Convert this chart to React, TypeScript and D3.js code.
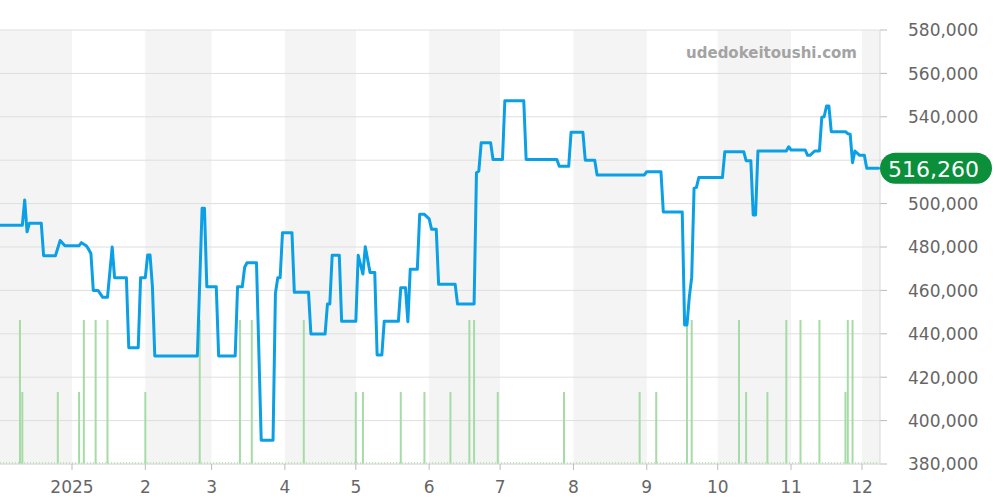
import React from "react";
import * as d3 from "d3";

const lineDates = [
  "2024-12-01","2024-12-11","2024-12-12","2024-12-13","2024-12-14","2024-12-19","2024-12-20","2024-12-25","2024-12-27","2024-12-29",
  "2025-01-04","2025-01-05","2025-01-07","2025-01-08","2025-01-09","2025-01-10","2025-01-12","2025-01-14","2025-01-16","2025-01-18",
  "2025-01-19","2025-01-24","2025-01-25","2025-01-29","2025-01-30","2025-02-01","2025-02-02","2025-02-03","2025-02-04","2025-02-05",
  "2025-02-23","2025-02-25","2025-02-26","2025-02-27","2025-03-03","2025-03-04","2025-03-11","2025-03-12","2025-03-14","2025-03-15",
  "2025-03-16","2025-03-20","2025-03-22","2025-03-27","2025-03-28","2025-03-29","2025-03-30","2025-03-31","2025-04-04","2025-04-05",
  "2025-04-11","2025-04-12","2025-04-18","2025-04-19","2025-04-20","2025-04-21","2025-04-24","2025-04-25","2025-05-01","2025-05-02",
  "2025-05-04","2025-05-05","2025-05-07","2025-05-09","2025-05-10","2025-05-12","2025-05-13","2025-05-19","2025-05-20","2025-05-22",
  "2025-05-23","2025-05-24","2025-05-27","2025-05-28","2025-05-30","2025-06-01","2025-06-02","2025-06-04","2025-06-05","2025-06-12",
  "2025-06-13","2025-06-20","2025-06-21","2025-06-22","2025-06-23","2025-06-27","2025-06-28","2025-07-02","2025-07-03","2025-07-11",
  "2025-07-12","2025-07-25","2025-07-26","2025-07-30","2025-07-31","2025-08-05","2025-08-06","2025-08-10","2025-08-11","2025-08-31",
  "2025-09-01","2025-09-07","2025-09-08","2025-09-16","2025-09-17","2025-09-18","2025-09-19","2025-09-20","2025-09-21","2025-09-22",
  "2025-09-23","2025-10-03","2025-10-04","2025-10-12","2025-10-13","2025-10-15","2025-10-16","2025-10-17","2025-10-18","2025-10-30",
  "2025-10-31","2025-11-01","2025-11-07","2025-11-08","2025-11-09","2025-11-11","2025-11-13","2025-11-14","2025-11-15","2025-11-16",
  "2025-11-17","2025-11-18","2025-11-24","2025-11-25","2025-11-26","2025-11-27","2025-11-28","2025-11-30","2025-12-02","2025-12-03",
  "2025-12-08",
];
const lineValues = [
  490000,490000,501700,487000,491000,491000,476000,476000,483000,480600,
  480600,482000,480600,479000,477000,460000,460000,456800,456800,480000,
  465850,465850,433600,433600,465850,465850,476300,476300,461700,429770,
  429770,497800,497800,461700,461700,429770,429770,461700,461700,470650,
  472750,472750,391000,391000,458600,465850,465850,486600,486600,459100,
  459100,439900,439900,453700,453700,476200,476200,445750,445750,476200,
  467550,480140,468300,468300,430230,430230,445750,445750,461250,461250,
  445600,469700,469700,495070,495070,493000,488200,488200,462800,462800,
  453700,453700,514200,515000,528000,528000,520300,520300,547400,547400,
  520300,520300,517200,517200,532850,532850,520000,520000,513180,513180,
  514700,514700,496130,496130,444060,444060,457000,466000,507050,507500,
  512000,512000,523900,523900,519800,519800,494750,494750,524240,524240,
  526200,524700,524700,522250,522250,524240,524240,539770,540000,545000,
  545000,533150,533150,532200,532000,518850,524240,522250,522250,516260,
  516260,
];

const volumeDates = [
  "2024-12-10","2024-12-11","2024-12-26","2025-01-04","2025-01-06","2025-01-11","2025-01-16","2025-02-01","2025-02-24","2025-03-13",
  "2025-03-18","2025-04-09","2025-05-01","2025-05-04","2025-05-20","2025-05-30","2025-06-10","2025-06-18","2025-06-20","2025-06-30",
  "2025-07-28","2025-08-29","2025-09-05","2025-09-18","2025-09-20","2025-10-10","2025-10-13","2025-10-22","2025-10-30","2025-11-05",
  "2025-11-13","2025-11-24","2025-11-25","2025-11-27",
];
const volumeValues = [
  2,1,1,1,2,2,2,1,2,2,
  2,2,1,1,1,1,1,2,2,1,
  1,1,1,2,2,2,1,1,2,2,
  2,1,2,2,
];

const yTicks = [380000, 400000, 420000, 440000, 460000, 480000, 500000, 520000, 540000, 560000, 580000];
const lastPrice = 516260;
const watermark = "udedokeitoushi.com";

export default function App() {
  const W = 1000, H = 500;
  const plotLeft = 0, plotRight = 880, plotTop = 30, plotBottom = 464;
  const parse = d3.timeParse("%Y-%m-%d");
  const x = d3.scaleTime()
    .domain([new Date(2025, 0, 1), new Date(2025, 11, 1)])
    .range([72, 862]);
  const y = d3.scaleLinear().domain([380000, 580000]).range([plotBottom, plotTop]);
  const yVol = d3.scaleLinear().domain([0, 6]).range([plotBottom, 32]);
  const fmt = d3.format(",");

  const start = x.invert(plotLeft);
  const end = x.invert(plotRight);
  const months = d3.timeMonth.range(d3.timeMonth.floor(start), d3.timeMonth.offset(end, 1));

  const linePts = lineDates.map((d, i) => ({ date: parse(d) as Date, value: lineValues[i] }));
  const lineGen = d3.line<{ date: Date; value: number }>()
    .x((d) => x(d.date))
    .y((d) => y(d.value));

  const vol = volumeDates.map((d, i) => ({ date: parse(d) as Date, value: volumeValues[i] }));

  const tickMonths = months.filter((m) => x(m) >= plotLeft && x(m) <= plotRight);
  const labelOf = (m: Date) => (m.getMonth() === 0 ? String(m.getFullYear()) : String(m.getMonth() + 1));

  const font = "'DejaVu Sans', Verdana, sans-serif";
  const badgeCy = y(lastPrice);
  const shadedMonths = [11, 1, 3, 5, 7, 9];

  return (
    <svg
      width={W}
      height={H}
      style={{ position: "fixed", left: 0, top: 0, background: "#fff" }}
      fontFamily={font}
    >
      <defs>
        <clipPath id="plotClip">
          <rect x={plotLeft} y={0} width={plotRight - plotLeft} height={H} />
        </clipPath>
      </defs>
      <g clipPath="url(#plotClip)">
        {months.map((m, i) => {
          const x0 = Math.max(plotLeft, x(m));
          const x1 = Math.min(plotRight, x(d3.timeMonth.offset(m, 1)));
          if (x1 <= x0) return null;
          return shadedMonths.includes(m.getMonth()) ? (
            <rect key={i} x={x0} y={plotTop} width={x1 - x0} height={plotBottom - plotTop} fill="#f4f4f4" />
          ) : null;
        })}
      </g>
      {yTicks.map((t) => (
        <g key={t}>
          <line x1={plotLeft} x2={plotRight} y1={y(t)} y2={y(t)} stroke="#dedede" strokeWidth={1} />
          <line x1={plotRight} x2={plotRight + 7} y1={y(t)} y2={y(t)} stroke="#bbb" strokeWidth={1} />
          {Math.abs(y(t) - badgeCy) > 16 ? (
            <text x={908} y={y(t) + 6.3} fontSize={17} fill="#666">{fmt(t)}</text>
          ) : null}
        </g>
      ))}
      <line x1={plotRight} x2={plotRight} y1={plotTop} y2={plotBottom} stroke="#d8d8d8" strokeWidth={1} />
      <text x={857} y={57.5} fontSize={15} fontWeight="bold" fill="#a3a3a3" textAnchor="end">{watermark}</text>

      <g clipPath="url(#plotClip)">
        <line x1={plotLeft} x2={877} y1={plotBottom - 1} y2={plotBottom - 1} stroke="#a8dca8" strokeWidth={1.5} strokeDasharray="1,2" />
        {vol.map((v, i) => (
          <line
            key={i}
            x1={x(v.date)}
            x2={x(v.date)}
            y1={plotBottom}
            y2={yVol(v.value)}
            stroke="#a6dba6"
            strokeWidth={2}
          />
        ))}
        <path
          d={lineGen(linePts) || ""}
          fill="none"
          stroke="#0ba0e6"
          strokeWidth={3}
          strokeLinejoin="round"
          strokeLinecap="round"
        />
      </g>

      <line x1={plotLeft} x2={plotRight} y1={plotBottom} y2={plotBottom} stroke="#dedede" strokeWidth={1} />
      {tickMonths.map((m, i) => (
        <g key={i}>
          <line x1={x(m)} x2={x(m)} y1={plotBottom} y2={plotBottom + 6} stroke="#bbb" strokeWidth={1} />
          <text x={x(m)} y={492.5} fontSize={17} fill="#666" textAnchor="middle">{labelOf(m)}</text>
        </g>
      ))}

      <rect x={880} y={badgeCy - 15.5} width={112} height={31} rx={15.5} ry={15.5} fill="#0b8f3b" />
      <text x={933.5} y={badgeCy + 8.3} fontSize={22} fill="#fff" textAnchor="middle">{fmt(lastPrice)}</text>
    </svg>
  );
}
